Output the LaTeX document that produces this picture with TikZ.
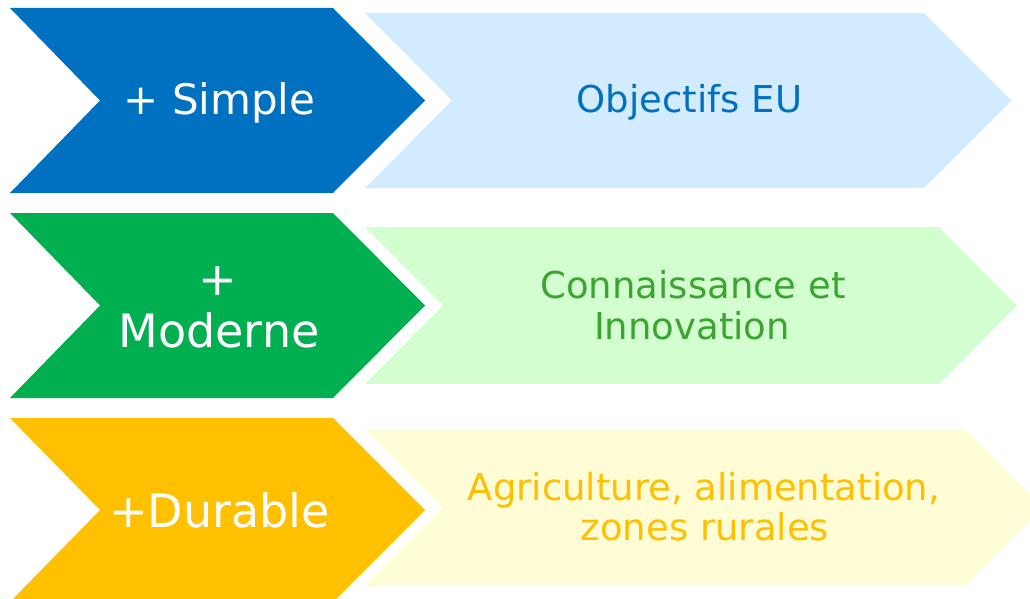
\documentclass[tikz,border=0pt]{standalone}
\usepackage{fontspec}
\setmainfont{DejaVu Sans}
\usetikzlibrary{positioning}
\definecolor{simpleblue}{RGB}{0,112,192}
\definecolor{simplelight}{RGB}{211,235,254}
\definecolor{moderngreen}{RGB}{0,176,80}
\definecolor{modernlight}{RGB}{211,255,208}
\definecolor{moderntext}{RGB}{60,165,50}
\definecolor{durableyellow}{RGB}{255,192,0}
\definecolor{durablelight}{RGB}{255,253,213}

\begin{document}
\begin{tikzpicture}[x=1pt,y=-1pt,
    big/.style={text=white,font=\fontsize{46}{52}\selectfont,inner sep=0pt,anchor=base},
    small/.style={font=\fontsize{37}{41}\selectfont,inner sep=0pt,anchor=base}]
      \clip (0,0) rectangle (1030,599);
      % + Simple
      \fill[simpleblue] (10,8) -- (333,8) -- (425,100.5) -- (333,193) -- (10,193) -- (100,100.5) -- cycle;
      \fill[simplelight] (365,13) -- (924,13) -- (1011.5,100.5) -- (924,188) -- (365,188) -- (452,100.5) -- cycle;
      \node[big,font=\fontsize{42}{50}\selectfont] (simple) at (219.5,115) {+ Simple};
      \node[small,text=simpleblue] (objectifs) at (689.5,113) {Objectifs EU};
      % + Moderne
      \fill[moderngreen] (10,213) -- (333,213) -- (425,305.5) -- (333,398) -- (10,398) -- (100,305.5) -- cycle;
      \fill[modernlight] (365,227) -- (939,227) -- (1017,305.5) -- (939,384) -- (365,384) -- (443,305.5) -- cycle;
      \node[big] (plus) at (218,295) {+};
      \node[big] (moderne) at (219,347) {Moderne};
      \node[small,text=moderntext] (connaissance) at (693,298) {Connaissance et};
      \node[small,text=moderntext] (innovation) at (692,339) {Innovation};
      % +Durable
      \fill[durableyellow] (10,418) -- (333,418) -- (425,510) -- (333,602) -- (10,602) -- (100,510) -- cycle;
      \fill[durablelight] (365,429) -- (965,429) -- (1043,507.5) -- (965,586) -- (365,586) -- (443,507.5) -- cycle;
      \node[big] (durable) at (219.5,527) {+Durable};
      \node[small,text=durableyellow] (agriculture) at (704,500) {Agriculture, alimentation,};
      \node[small,text=durableyellow] (zones) at (705,540) {zones rurales};
\end{tikzpicture}
\end{document}
